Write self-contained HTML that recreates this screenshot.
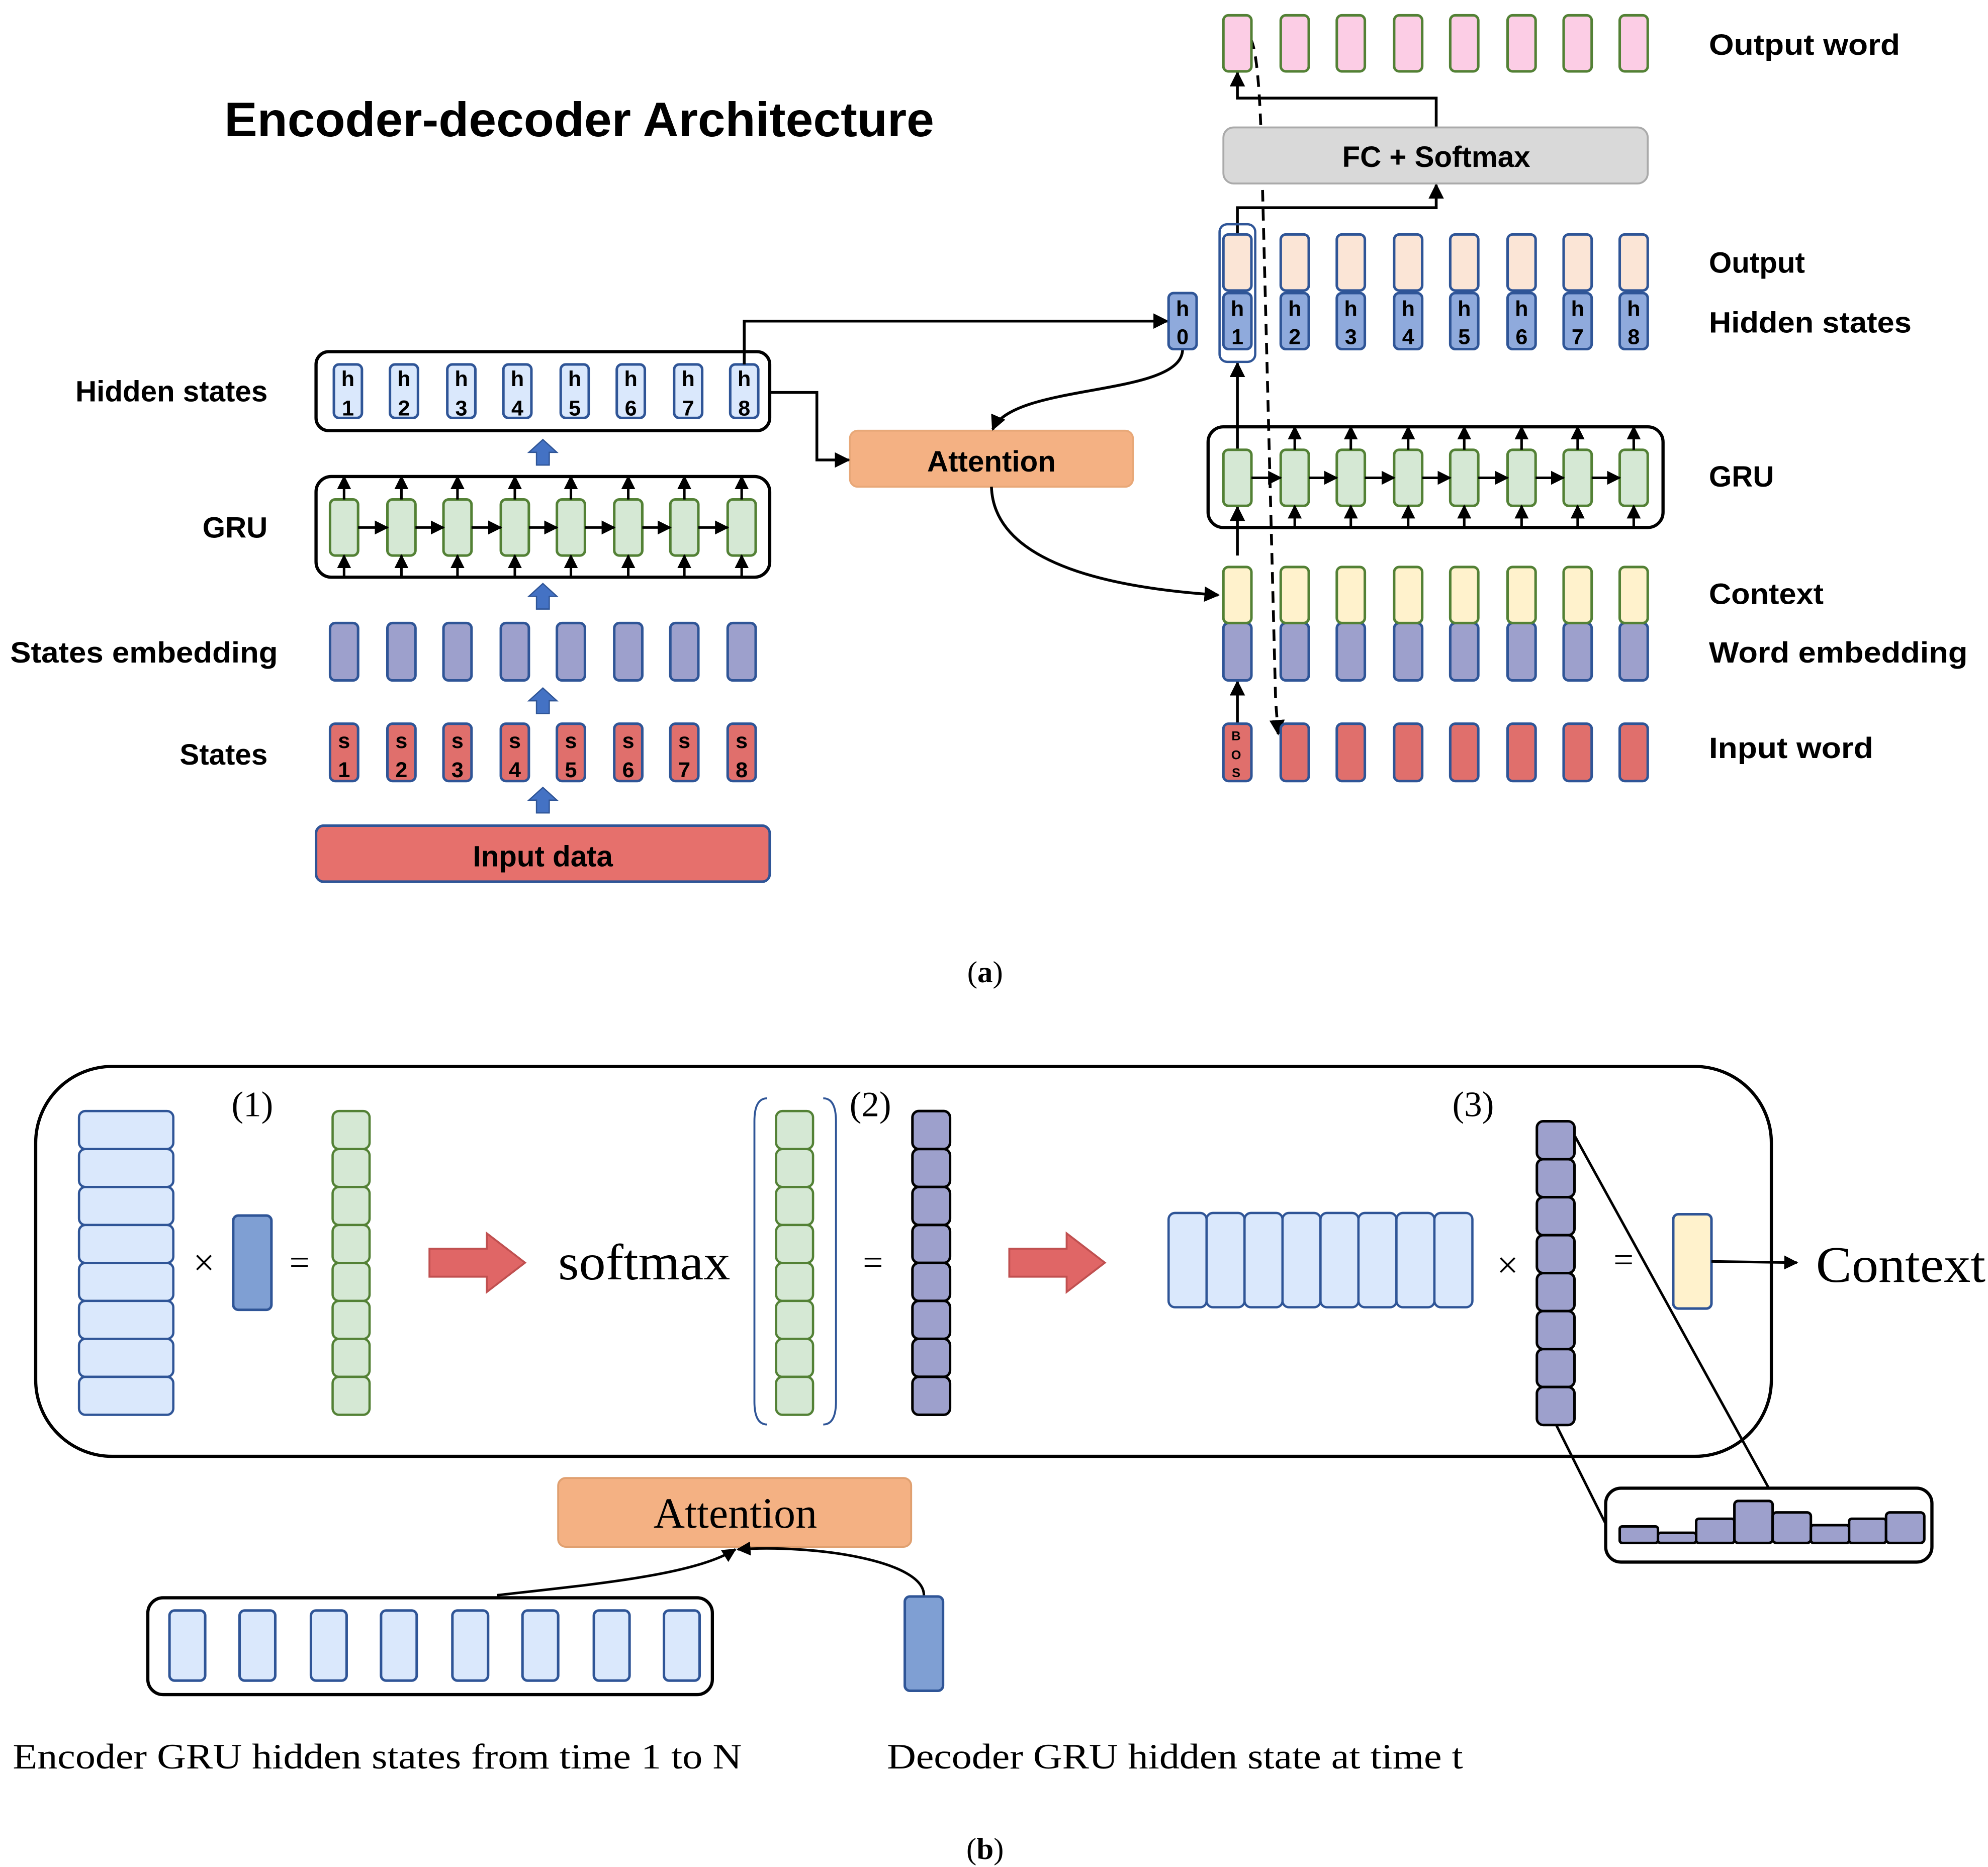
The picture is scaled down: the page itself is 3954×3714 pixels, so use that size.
<!DOCTYPE html>
<html><head><meta charset="utf-8"><style>html,body{margin:0;padding:0;background:#fff}svg{display:block}</style></head><body>
<svg xmlns="http://www.w3.org/2000/svg" xmlns:xlink="http://www.w3.org/1999/xlink" width="3954" height="3714" viewBox="0 0 1560 1465.3">
<defs>
<marker id="ar" viewBox="0 0 10 10" refX="9" refY="5" markerWidth="5.5" markerHeight="5.5" orient="auto" markerUnits="strokeWidth"><path d="M0,0L10,5L0,10z" fill="#000"/></marker>
<rect id="hb" x="-11" y="0" width="22" height="42" rx="4" fill="#dae8fc" stroke="#2f5597" stroke-width="2"/>
<rect id="gc" x="-11" y="0" width="22" height="44" rx="4" fill="#d5e8d4" stroke="#538135" stroke-width="2"/>
<rect id="pe" x="-11" y="0" width="22" height="45" rx="4" fill="#9da0cc" stroke="#2f5597" stroke-width="2"/>
<rect id="rd" x="-11" y="0" width="22" height="45" rx="4" fill="#e06f6c" stroke="#2f5597" stroke-width="2"/>
<rect id="pk" x="-11" y="0" width="22" height="44" rx="4" fill="#fccde5" stroke="#538135" stroke-width="2"/>
<rect id="pc" x="-11" y="0" width="22" height="44" rx="4" fill="#fbe5d6" stroke="#2f5597" stroke-width="2"/>
<rect id="hd" x="-11" y="0" width="22" height="44" rx="4" fill="#8faadc" stroke="#2f5597" stroke-width="2"/>
<rect id="ct" x="-11" y="0" width="22" height="44" rx="4" fill="#fff2cc" stroke="#538135" stroke-width="2"/>
<path id="bu" d="M-5,20V10H-11L0,0L11,10H5V20Z" fill="#4472c4" stroke="#2f5597" stroke-width="1"/>
<rect id="lb" x="0" y="0" width="74" height="29.8" rx="5" fill="#dae8fc" stroke="#2f5597" stroke-width="1.8"/>
<rect id="gs" x="0" y="0" width="29" height="29.8" rx="5" fill="#d5e8d4" stroke="#538135" stroke-width="1.8"/>
<rect id="ps" x="0" y="0" width="29.5" height="29.8" rx="5" fill="#9da0cc" stroke="#000" stroke-width="2"/>
<rect id="hc" x="0" y="0" width="29.8" height="74" rx="5" fill="#dae8fc" stroke="#2f5597" stroke-width="1.8"/>
<path id="ra" d="M0,-11H45V-23L75,0L45,23V11H0Z" fill="#e06666" stroke="#c05050" stroke-width="1.5"/>
</defs>
<g font-family="Liberation Sans, sans-serif" font-weight="bold">
<text x="176" y="107" font-size="38" textLength="557" lengthAdjust="spacingAndGlyphs">Encoder-decoder Architecture</text>
<g font-size="23" text-anchor="end">
<text x="210" y="315">Hidden states</text>
<text x="210" y="422">GRU</text>
<text x="218" y="520" textLength="210" lengthAdjust="spacingAndGlyphs">States embedding</text>
<text x="210" y="600">States</text>
</g>
<g font-size="23">
<text x="1341" y="43" textLength="150" lengthAdjust="spacingAndGlyphs">Output word</text>
<text x="1341" y="214">Output</text>
<text x="1341" y="261" textLength="159" lengthAdjust="spacingAndGlyphs">Hidden states</text>
<text x="1341" y="382">GRU</text>
<text x="1341" y="474" textLength="90" lengthAdjust="spacingAndGlyphs">Context</text>
<text x="1341" y="520" textLength="203" lengthAdjust="spacingAndGlyphs">Word embedding</text>
<text x="1341" y="595" textLength="129" lengthAdjust="spacingAndGlyphs">Input word</text>
</g>
</g>
<!-- encoder -->
<rect x="248" y="276" width="356" height="62" rx="10" fill="none" stroke="#000" stroke-width="2.5"/>
<rect x="248" y="374" width="356" height="79" rx="12" fill="none" stroke="#000" stroke-width="2.5"/>
<g>
<use href="#hb" x="273" y="286"/><use href="#hb" x="317" y="286"/><use href="#hb" x="362" y="286"/><use href="#hb" x="406" y="286"/><use href="#hb" x="451" y="286"/><use href="#hb" x="495" y="286"/><use href="#hb" x="540" y="286"/><use href="#hb" x="584" y="286"/>
</g>
<g font-family="Liberation Sans, sans-serif" font-weight="bold" font-size="17" text-anchor="middle">
<text x="273" y="303">h</text><text x="317" y="303">h</text><text x="362" y="303">h</text><text x="406" y="303">h</text><text x="451" y="303">h</text><text x="495" y="303">h</text><text x="540" y="303">h</text><text x="584" y="303">h</text>
<text x="273" y="326">1</text><text x="317" y="326">2</text><text x="362" y="326">3</text><text x="406" y="326">4</text><text x="451" y="326">5</text><text x="495" y="326">6</text><text x="540" y="326">7</text><text x="584" y="326">8</text>
</g>
<use href="#bu" x="426" y="345"/><use href="#bu" x="426" y="458"/><use href="#bu" x="426" y="540"/><use href="#bu" x="426" y="618"/>
<g>
<use href="#gc" x="270" y="392"/><use href="#gc" x="315" y="392"/><use href="#gc" x="359" y="392"/><use href="#gc" x="404" y="392"/><use href="#gc" x="448" y="392"/><use href="#gc" x="493" y="392"/><use href="#gc" x="537" y="392"/><use href="#gc" x="582" y="392"/>
</g>
<g stroke="#000" stroke-width="2" marker-end="url(#ar)">
<path d="M281,414H304"/><path d="M326,414H348"/><path d="M370,414H393"/><path d="M415,414H437"/><path d="M459,414H482"/><path d="M504,414H526"/><path d="M548,414H571"/>
<path d="M270,453V436"/><path d="M315,453V436"/><path d="M359,453V436"/><path d="M404,453V436"/><path d="M448,453V436"/><path d="M493,453V436"/><path d="M537,453V436"/><path d="M582,453V436"/>
<path d="M270,392V374"/><path d="M315,392V374"/><path d="M359,392V374"/><path d="M404,392V374"/><path d="M448,392V374"/><path d="M493,392V374"/><path d="M537,392V374"/><path d="M582,392V374"/>
</g>
<g>
<use href="#pe" x="270" y="489"/><use href="#pe" x="315" y="489"/><use href="#pe" x="359" y="489"/><use href="#pe" x="404" y="489"/><use href="#pe" x="448" y="489"/><use href="#pe" x="493" y="489"/><use href="#pe" x="537" y="489"/><use href="#pe" x="582" y="489"/>
<use href="#rd" x="270" y="568"/><use href="#rd" x="315" y="568"/><use href="#rd" x="359" y="568"/><use href="#rd" x="404" y="568"/><use href="#rd" x="448" y="568"/><use href="#rd" x="493" y="568"/><use href="#rd" x="537" y="568"/><use href="#rd" x="582" y="568"/>
</g>
<g font-family="Liberation Sans, sans-serif" font-weight="bold" font-size="17" text-anchor="middle">
<text x="270" y="587">s</text><text x="315" y="587">s</text><text x="359" y="587">s</text><text x="404" y="587">s</text><text x="448" y="587">s</text><text x="493" y="587">s</text><text x="537" y="587">s</text><text x="582" y="587">s</text>
<text x="270" y="610">1</text><text x="315" y="610">2</text><text x="359" y="610">3</text><text x="404" y="610">4</text><text x="448" y="610">5</text><text x="493" y="610">6</text><text x="537" y="610">7</text><text x="582" y="610">8</text>
</g>
<rect x="248" y="648" width="356" height="44" rx="6" fill="#e6706c" stroke="#2f5597" stroke-width="2"/>
<text x="426" y="680" font-family="Liberation Sans, sans-serif" font-weight="bold" font-size="23" text-anchor="middle">Input data</text>
<!-- attention -->
<rect x="667" y="338" width="222" height="44" rx="6" fill="#f4b183" stroke="#e8a878" stroke-width="1.5"/>
<text x="778" y="370" font-family="Liberation Sans, sans-serif" font-weight="bold" font-size="23" text-anchor="middle">Attention</text>
<g fill="none" stroke="#000" stroke-width="2.2" marker-end="url(#ar)">
<path d="M584,286V252H916"/>
<path d="M604,308H641V361H666"/>
<path d="M928,274C928,312 795,300 779,337"/>
<path d="M778,382C780,445 880,462 956,467"/>
<path d="M971,184V163H1127V145"/>
<path d="M1127,100V77H971V57"/>
<path d="M971,568V535"/>
<path d="M971,436V398"/>
<path d="M971,353V285"/>
</g>
<path d="M981,30Q988,40 990,120L1001,550L1003,576" fill="none" stroke="#000" stroke-width="2.2" stroke-dasharray="9,6" marker-end="url(#ar)"/>
<!-- decoder -->
<g>
<use href="#pk" x="971" y="12"/><use href="#pk" x="1016" y="12"/><use href="#pk" x="1060" y="12"/><use href="#pk" x="1105" y="12"/><use href="#pk" x="1149" y="12"/><use href="#pk" x="1194" y="12"/><use href="#pk" x="1238" y="12"/><use href="#pk" x="1282" y="12"/>
<use href="#pc" x="971" y="184"/><use href="#pc" x="1016" y="184"/><use href="#pc" x="1060" y="184"/><use href="#pc" x="1105" y="184"/><use href="#pc" x="1149" y="184"/><use href="#pc" x="1194" y="184"/><use href="#pc" x="1238" y="184"/><use href="#pc" x="1282" y="184"/>
<use href="#hd" x="928" y="230"/><use href="#hd" x="971" y="230"/><use href="#hd" x="1016" y="230"/><use href="#hd" x="1060" y="230"/><use href="#hd" x="1105" y="230"/><use href="#hd" x="1149" y="230"/><use href="#hd" x="1194" y="230"/><use href="#hd" x="1238" y="230"/><use href="#hd" x="1282" y="230"/>
</g>
<rect x="960" y="100" width="333" height="44" rx="8" fill="#d9d9d9" stroke="#aaa" stroke-width="1.5"/>
<text x="1127" y="131" font-family="Liberation Sans, sans-serif" font-weight="bold" font-size="23" text-anchor="middle">FC + Softmax</text>
<g font-family="Liberation Sans, sans-serif" font-weight="bold" font-size="17" text-anchor="middle">
<text x="928" y="248">h</text><text x="971" y="248">h</text><text x="1016" y="248">h</text><text x="1060" y="248">h</text><text x="1105" y="248">h</text><text x="1149" y="248">h</text><text x="1194" y="248">h</text><text x="1238" y="248">h</text><text x="1282" y="248">h</text>
<text x="928" y="270">0</text><text x="971" y="270">1</text><text x="1016" y="270">2</text><text x="1060" y="270">3</text><text x="1105" y="270">4</text><text x="1149" y="270">5</text><text x="1194" y="270">6</text><text x="1238" y="270">7</text><text x="1282" y="270">8</text>
</g>
<rect x="957" y="176" width="28" height="108" rx="6" fill="none" stroke="#2f5597" stroke-width="1.8"/>
<rect x="948" y="335" width="357" height="79" rx="12" fill="none" stroke="#000" stroke-width="2.5"/>
<g>
<use href="#gc" x="971" y="353"/><use href="#gc" x="1016" y="353"/><use href="#gc" x="1060" y="353"/><use href="#gc" x="1105" y="353"/><use href="#gc" x="1149" y="353"/><use href="#gc" x="1194" y="353"/><use href="#gc" x="1238" y="353"/><use href="#gc" x="1282" y="353"/>
</g>
<g stroke="#000" stroke-width="2" marker-end="url(#ar)">
<path d="M982,375H1005"/><path d="M1027,375H1049"/><path d="M1071,375H1094"/><path d="M1116,375H1138"/><path d="M1160,375H1183"/><path d="M1205,375H1227"/><path d="M1249,375H1271"/>
<path d="M1016,414V397"/><path d="M1060,414V397"/><path d="M1105,414V397"/><path d="M1149,414V397"/><path d="M1194,414V397"/><path d="M1238,414V397"/><path d="M1282,414V397"/>
<path d="M1016,353V335"/><path d="M1060,353V335"/><path d="M1105,353V335"/><path d="M1149,353V335"/><path d="M1194,353V335"/><path d="M1238,353V335"/><path d="M1282,353V335"/>
</g>
<g>
<use href="#pe" x="971" y="489"/><use href="#pe" x="1016" y="489"/><use href="#pe" x="1060" y="489"/><use href="#pe" x="1105" y="489"/><use href="#pe" x="1149" y="489"/><use href="#pe" x="1194" y="489"/><use href="#pe" x="1238" y="489"/><use href="#pe" x="1282" y="489"/>
<use href="#ct" x="971" y="445"/><use href="#ct" x="1016" y="445"/><use href="#ct" x="1060" y="445"/><use href="#ct" x="1105" y="445"/><use href="#ct" x="1149" y="445"/><use href="#ct" x="1194" y="445"/><use href="#ct" x="1238" y="445"/><use href="#ct" x="1282" y="445"/>
<use href="#rd" x="971" y="568"/><use href="#rd" x="1016" y="568"/><use href="#rd" x="1060" y="568"/><use href="#rd" x="1105" y="568"/><use href="#rd" x="1149" y="568"/><use href="#rd" x="1194" y="568"/><use href="#rd" x="1238" y="568"/><use href="#rd" x="1282" y="568"/>
</g>
<g font-family="Liberation Sans, sans-serif" font-weight="bold" font-size="10" text-anchor="middle">
<text x="970" y="581">B</text><text x="970" y="596">O</text><text x="970" y="610">S</text>
</g>
<g font-family="Liberation Serif, serif" font-size="24" text-anchor="middle">
<text x="773" y="771">(<tspan font-weight="bold">a</tspan>)</text>
<text x="773" y="1459">(<tspan font-weight="bold">b</tspan>)</text>
</g>
<!-- part b -->
<rect x="28" y="837" width="1362" height="306" rx="60" fill="none" stroke="#000" stroke-width="2.5"/>
<g font-family="Liberation Serif, serif" font-size="28" text-anchor="middle">
<text x="198" y="876">(1)</text><text x="683" y="876">(2)</text><text x="1156" y="876">(3)</text>
<text x="160" y="1001" font-size="30">×</text><text x="235" y="1000">=</text>
<text x="685" y="1000">=</text><text x="1183" y="1003" font-size="30">×</text><text x="1274" y="998">=</text>
</g>
<g>
<use href="#lb" x="62" y="872"/><use href="#lb" x="62" y="901.8"/><use href="#lb" x="62" y="931.6"/><use href="#lb" x="62" y="961.4"/><use href="#lb" x="62" y="991.2"/><use href="#lb" x="62" y="1021"/><use href="#lb" x="62" y="1050.8"/><use href="#lb" x="62" y="1080.6"/>
<use href="#gs" x="261" y="872"/><use href="#gs" x="261" y="901.8"/><use href="#gs" x="261" y="931.6"/><use href="#gs" x="261" y="961.4"/><use href="#gs" x="261" y="991.2"/><use href="#gs" x="261" y="1021"/><use href="#gs" x="261" y="1050.8"/><use href="#gs" x="261" y="1080.6"/>
<use href="#gs" x="609" y="872"/><use href="#gs" x="609" y="901.8"/><use href="#gs" x="609" y="931.6"/><use href="#gs" x="609" y="961.4"/><use href="#gs" x="609" y="991.2"/><use href="#gs" x="609" y="1021"/><use href="#gs" x="609" y="1050.8"/><use href="#gs" x="609" y="1080.6"/>
<use href="#ps" x="716" y="872"/><use href="#ps" x="716" y="901.8"/><use href="#ps" x="716" y="931.6"/><use href="#ps" x="716" y="961.4"/><use href="#ps" x="716" y="991.2"/><use href="#ps" x="716" y="1021"/><use href="#ps" x="716" y="1050.8"/><use href="#ps" x="716" y="1080.6"/>
<use href="#ps" x="1206" y="880"/><use href="#ps" x="1206" y="909.8"/><use href="#ps" x="1206" y="939.6"/><use href="#ps" x="1206" y="969.4"/><use href="#ps" x="1206" y="999.2"/><use href="#ps" x="1206" y="1029"/><use href="#ps" x="1206" y="1058.8"/><use href="#ps" x="1206" y="1088.6"/>
<use href="#hc" x="917" y="952"/><use href="#hc" x="946.8" y="952"/><use href="#hc" x="976.6" y="952"/><use href="#hc" x="1006.4" y="952"/><use href="#hc" x="1036.2" y="952"/><use href="#hc" x="1066" y="952"/><use href="#hc" x="1095.8" y="952"/><use href="#hc" x="1125.6" y="952"/>
</g>
<rect x="183" y="954" width="30" height="74" rx="4" fill="#7f9fd3" stroke="#2f5597" stroke-width="2"/>
<use href="#ra" x="337" y="991"/><use href="#ra" x="792" y="991"/>
<text x="438" y="1004" font-family="Liberation Serif, serif" font-size="40" textLength="135" lengthAdjust="spacingAndGlyphs">softmax</text>
<path d="M602,862Q592,862 592,880V1100Q592,1118 602,1118M646,862Q656,862 656,880V1100Q656,1118 646,1118" fill="none" stroke="#2f5597" stroke-width="1.5"/>
<rect x="1313" y="953" width="30" height="74" rx="4" fill="#fff2cc" stroke="#2f5597" stroke-width="2"/>
<path d="M1343,990L1410,991" stroke="#000" stroke-width="2" marker-end="url(#ar)"/>
<text x="1425" y="1006" font-family="Liberation Serif, serif" font-size="40" textLength="133" lengthAdjust="spacingAndGlyphs">Context</text>
<path d="M1236,892L1388,1168M1221,1118L1260,1196" stroke="#000" stroke-width="2" fill="none"/>
<rect x="1260" y="1168" width="256" height="58" rx="12" fill="#fff" stroke="#000" stroke-width="2.5"/>
<g fill="#9da0cc" stroke="#000" stroke-width="2">
<rect x="1271" y="1198" width="30" height="13" rx="2"/><rect x="1301" y="1203" width="30" height="8" rx="2"/><rect x="1331" y="1192" width="30" height="19" rx="2"/><rect x="1361" y="1178" width="30" height="33" rx="3"/><rect x="1391" y="1187" width="30" height="24" rx="3"/><rect x="1421" y="1197" width="30" height="14" rx="2"/><rect x="1451" y="1192" width="29" height="19" rx="2"/><rect x="1480" y="1187" width="30" height="24" rx="3"/>
</g>
<rect x="438" y="1160" width="277" height="54" rx="6" fill="#f4b183" stroke="#e0a070" stroke-width="1.5"/>
<text x="577" y="1199" font-family="Liberation Serif, serif" font-size="34" text-anchor="middle">Attention</text>
<rect x="116" y="1254" width="443" height="76" rx="12" fill="none" stroke="#000" stroke-width="2.5"/>
<g fill="#dae8fc" stroke="#2f5597" stroke-width="2">
<rect x="133" y="1264" width="28" height="55" rx="4"/><rect x="188" y="1264" width="28" height="55" rx="4"/><rect x="244" y="1264" width="28" height="55" rx="4"/><rect x="299" y="1264" width="28" height="55" rx="4"/><rect x="355" y="1264" width="28" height="55" rx="4"/><rect x="410" y="1264" width="28" height="55" rx="4"/><rect x="466" y="1264" width="28" height="55" rx="4"/><rect x="521" y="1264" width="28" height="55" rx="4"/>
</g>
<rect x="710" y="1253" width="30" height="74" rx="4" fill="#7f9fd3" stroke="#2f5597" stroke-width="2"/>
<g fill="none" stroke="#000" stroke-width="2" marker-end="url(#ar)">
<path d="M390,1252C470,1243 545,1236 577,1216"/>
<path d="M725,1252C725,1225 640,1212 579,1216"/>
</g>
<g font-family="Liberation Serif, serif" font-size="28">
<text x="10" y="1388" textLength="572" lengthAdjust="spacingAndGlyphs">Encoder GRU hidden states from time 1 to N</text>
<text x="696" y="1388" textLength="452" lengthAdjust="spacingAndGlyphs">Decoder GRU hidden state at time t</text>
</g>
</svg>
</body></html>
